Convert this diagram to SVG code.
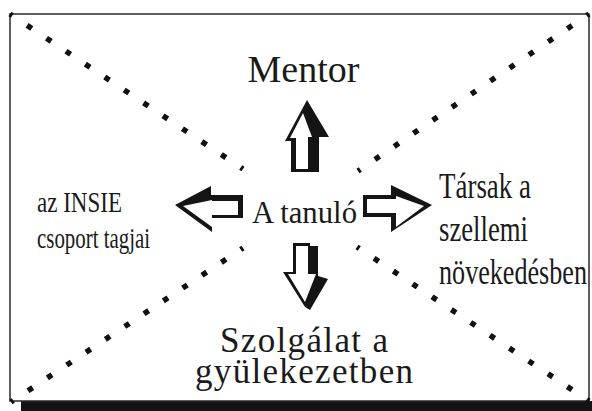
<svg xmlns="http://www.w3.org/2000/svg" width="592" height="411" viewBox="0 0 592 411">
<style>
.t{font-family:"Liberation Serif","Times New Roman",serif;fill:#1a1a1a}
.dot{fill:none;stroke:#111;stroke-width:5.5;stroke-linecap:butt;stroke-dasharray:0.24 0.76;stroke-dashoffset:0.12}
.blk{fill:#141414}
.wht{fill:#fff}
</style>
<rect x="0" y="0" width="592" height="411" fill="#fff"/>
<g id="frame">
<rect x="21" y="401" width="571" height="10" fill="#141414"/>
<rect x="10" y="14" width="579" height="387" fill="none" stroke="#2a2a2a" stroke-width="1.5"/>
</g>
<g id="diagonals">
<path class="dot" d="M10,14 L243,169" pathLength="12"/>
<path class="dot" d="M589,14 L358,171" pathLength="12"/>
<path class="dot" d="M11,402 L243,248" pathLength="12"/>
<path class="dot" d="M589,401 L357,247" pathLength="12"/>
</g>
<g id="connectors">
<g id="arrow-up">
<polygon class="blk" points="285,141 307,100 329,137 319,137 319,172 291,172 291,141"/>
<polygon class="wht" points="303,113 312,137 308,137 308,169 296,169 296,138 290,138"/>
</g>
<g id="arrow-down">
<polygon class="blk" points="293,243 310,243 310,246 318,246 318,276 328,279 310,310 305,307 283,272 293,272"/>
<polygon class="wht" points="296,246 308,246 308,274 316,274 305,302 288,274 296,274"/>
</g>
<g id="arrow-left">
<polygon class="blk" points="175,205 211,186 211,195 243,195 243,218 212,218 212,232"/>
<polygon class="wht" points="183,206 212,200 212,201 238,201 238,215 212,215 212,227"/>
</g>
<g id="arrow-right">
<polygon class="blk" points="363,195 391,195 391,185 432,205 391,232 391,217 363,217"/>
<polygon class="wht" points="367,199 396,199 396,196 424,206 396,227 396,213 367,213"/>
</g>
</g>
<g id="node-mentor">
<text class="t" x="303.5" y="82" font-size="38" text-anchor="middle">Mentor</text>
</g>
<g id="node-tanulo">
<text class="t" x="252" y="223" font-size="32" textLength="105" lengthAdjust="spacingAndGlyphs">A tanuló</text>
</g>
<g id="node-insie">
<text class="t" x="37" y="212" font-size="30" textLength="85" lengthAdjust="spacingAndGlyphs">az INSIE</text>
<text class="t" x="37" y="248" font-size="30" textLength="113" lengthAdjust="spacingAndGlyphs">csoport tagjai</text>
</g>
<g id="node-tarsak">
<text class="t" x="439" y="198" font-size="35" textLength="92" lengthAdjust="spacingAndGlyphs">Társak a</text>
<text class="t" x="439" y="241" font-size="35" textLength="89" lengthAdjust="spacingAndGlyphs">szellemi</text>
<text class="t" x="439" y="284" font-size="35" textLength="148" lengthAdjust="spacingAndGlyphs">növekedésben</text>
</g>
<g id="node-szolgalat">
<text class="t" x="220" y="352" font-size="35" textLength="168" lengthAdjust="spacing">Szolgálat a</text>
<text class="t" x="195" y="383" font-size="35" textLength="218" lengthAdjust="spacing">gyülekezetben</text>
</g>
</svg>
